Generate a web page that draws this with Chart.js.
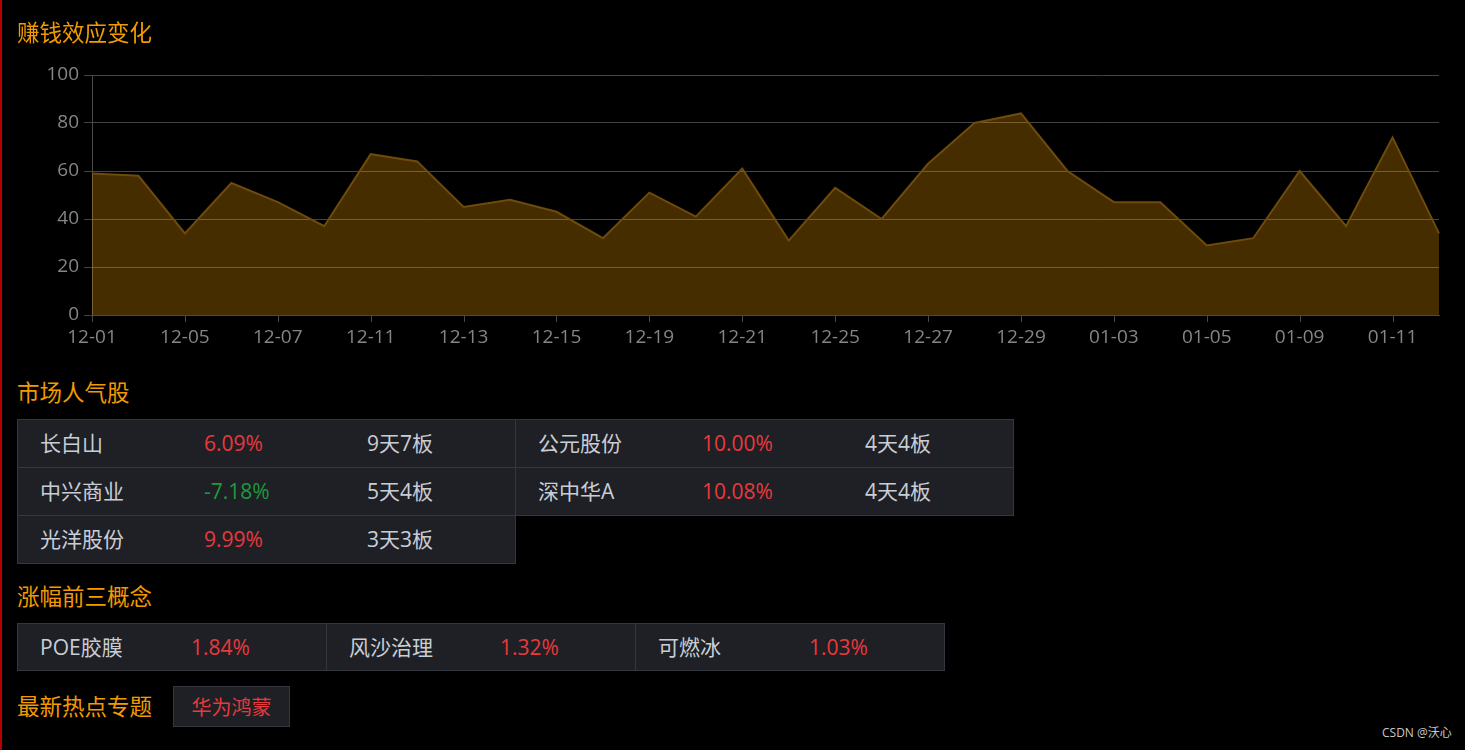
<!DOCTYPE html>
<html>
<head>
<meta charset="utf-8">
<script src="https://cdn.jsdelivr.net/npm/chart.js@4.4.1/dist/chart.umd.min.js"></script>
<style>
  html, body { margin:0; padding:0; background:#000; }
  body { width:1465px; height:750px; position:relative; overflow:hidden;
         font-family:"Open Sans","Noto Sans CJK SC",sans-serif; }
  .redline { position:absolute; left:0; top:0; width:2px; height:750px; background:#b40000; }
  .title { position:absolute; left:17px; font-size:22.5px; line-height:22px; color:#f29a00;
           font-family:"Noto Sans CJK SC",sans-serif; white-space:nowrap; z-index:2; }
  .cell { position:absolute; box-sizing:border-box; background:#1e2025; border:1px solid #34373d; }
  .txt { position:absolute; font-size:21px; line-height:21px; white-space:nowrap; color:#c9ced6; }
  .up { color:#e8393d; }
  .down { color:#1d9a3c; }
  #chartBox { position:absolute; left:0; top:0; width:1465px; height:360px; }
  .tag { position:absolute; box-sizing:border-box; background:#1e2025; border:1px solid #34373d;
         color:#e8393d; font-size:20px; text-align:center; font-family:"Noto Sans CJK SC",sans-serif; }
  .wm { position:absolute; left:1382px; top:726px; font-size:12px; line-height:14px; color:#c8c8c8; white-space:nowrap; }
</style>
</head>
<body>
<div class="redline"></div>
<div id="chartBox"><canvas id="c"></canvas></div>
<div class="title" style="top:20px">赚钱效应变化</div>
<div class="title" style="top:380px">市场人气股</div>
<div class="title" style="top:584px">涨幅前三概念</div>
<div class="title" style="top:694px">最新热点专题</div>
<div id="tables"></div>
<div class="wm">CSDN @沃心</div>
<script>
// ---- data ----
const dates = ['12-01','12-04','12-05','12-06','12-07','12-08','12-11','12-12','12-13','12-14',
               '12-15','12-18','12-19','12-20','12-21','12-22','12-25','12-26','12-27','12-28',
               '12-29','01-02','01-03','01-04','01-05','01-08','01-09','01-10','01-11','01-12'];
const effect = [59,58,34,55,47,37,67,64,45,48,
                43,32,51,41,61,31,53,40,63,80,
                84,60,47,47,29,32,60,37,74,34];
const yTicks = [0,20,40,60,80,100];

const stockNames  = ['长白山','公元股份','中兴商业','深中华A','光洋股份'];
const stockChange = [6.09, 10.00, -7.18, 10.08, 9.99];
const stockBoards = ['9天7板','4天4板','5天4板','4天4板','3天3板'];

const conceptNames  = ['POE胶膜','风沙治理','可燃冰'];
const conceptChange = [1.84, 1.32, 1.03];

const hotTopics = ['华为鸿蒙'];

// ---- chart ----
new Chart(document.getElementById('c'), {
  type: 'line',
  data: {
    labels: dates,
    datasets: [{
      data: effect,
      fill: 'origin',
      backgroundColor: 'rgba(255,166,0,0.27)',
      borderColor: '#6e4b0a',
      borderWidth: 2,
      pointRadius: 0,
      tension: 0
    }]
  },
  options: {
    responsive: true,
    maintainAspectRatio: false,
    animation: false,
    layout: { padding: { top: 75, right: 26, left: 0, bottom: 0 } },
    plugins: { legend: { display: false }, tooltip: { enabled: false } },
    scales: {
      x: {
        offset: false,
        grid: { display: false, drawOnChartArea: false, drawTicks: true, tickLength: 7, color: '#4a4a4a' },
        border: { display: true, color: '#4a4a4a', width: 1 },
        ticks: {
          autoSkip: false, maxRotation: 0, padding: 4,
          color: '#858585', font: { family: 'Open Sans', size: 19 },
          callback: function(v, i) { return i % 2 === 0 ? dates[i] : ''; }
        },
        afterFit: function(s) { s.height = 45; }
      },
      y: {
        min: 0, max: 100,
        afterBuildTicks: function(s) { s.ticks = yTicks.map(v => ({ value: v })); },
        grid: { color: '#444', tickLength: 8, lineWidth: 1 },
        border: { display: true, color: '#4a4a4a', width: 1 },
        ticks: { padding: 5, color: '#858585', font: { family: 'Open Sans', size: 19 } },
        afterFit: function(s) { s.width = 92; }
      }
    }
  },
  plugins: [{
    id: 'xticks',
    afterDraw(chart) {
      // tick marks below the x axis for labelled categories
      const ctx = chart.ctx, xs = chart.scales.x, bottom = chart.chartArea.bottom;
      ctx.save();
      ctx.strokeStyle = '#4a4a4a'; ctx.lineWidth = 1;
      for (let i = 0; i < dates.length; i += 2) {
        const x = Math.round(xs.getPixelForValue(i)) + 0.5;
        ctx.beginPath(); ctx.moveTo(x, bottom); ctx.lineTo(x, bottom + 7); ctx.stroke();
      }
      ctx.restore();
    }
  }]
});

// ---- tables ----
const root = document.getElementById('tables');
function addCell(x, y, w, h) {
  const d = document.createElement('div');
  d.className = 'cell';
  d.style.left = x + 'px'; d.style.top = y + 'px';
  d.style.width = w + 'px'; d.style.height = h + 'px';
  root.appendChild(d);
}
function addText(x, cy, text, cls) {
  const d = document.createElement('div');
  d.className = 'txt' + (cls ? ' ' + cls : '');
  d.textContent = text;
  d.style.left = x + 'px'; d.style.top = (cy - 11) + 'px';
  root.appendChild(d);
}
function pct(v) { return v.toFixed(2) + '%'; }

// market popular stocks: 2 columns
const t1x = 17, t1y = 419, t1w = 499, t1h = 48;
stockNames.forEach((n, i) => {
  const col = i % 2, row = Math.floor(i / 2);
  const x = t1x + col * (t1w - 1), y = t1y + row * t1h;
  addCell(x, y, t1w, t1h + 1);
  const cy = y + t1h / 2 + 1;
  addText(x + 23, cy, n);
  addText(x + 187, cy, pct(stockChange[i]), stockChange[i] >= 0 ? 'up' : 'down');
  addText(x + 350, cy, stockBoards[i]);
});

// top concepts
const t2x = 17, t2y = 623, t2w = 310, t2h = 48;
conceptNames.forEach((n, i) => {
  const x = t2x + i * (t2w - 1);
  addCell(x, t2y, t2w, t2h);
  const cy = t2y + t2h / 2 + 1;
  addText(x + 23, cy, n);
  addText(x + 174, cy, pct(conceptChange[i]), conceptChange[i] >= 0 ? 'up' : 'down');
});

// hot topics
hotTopics.forEach((t, i) => {
  const d = document.createElement('div');
  d.className = 'tag';
  d.textContent = t;
  d.style.left = (173 + i * 130) + 'px'; d.style.top = '686px';
  d.style.width = '117px'; d.style.height = '41px'; d.style.lineHeight = '39px';
  root.appendChild(d);
});
</script>
</body>
</html>
